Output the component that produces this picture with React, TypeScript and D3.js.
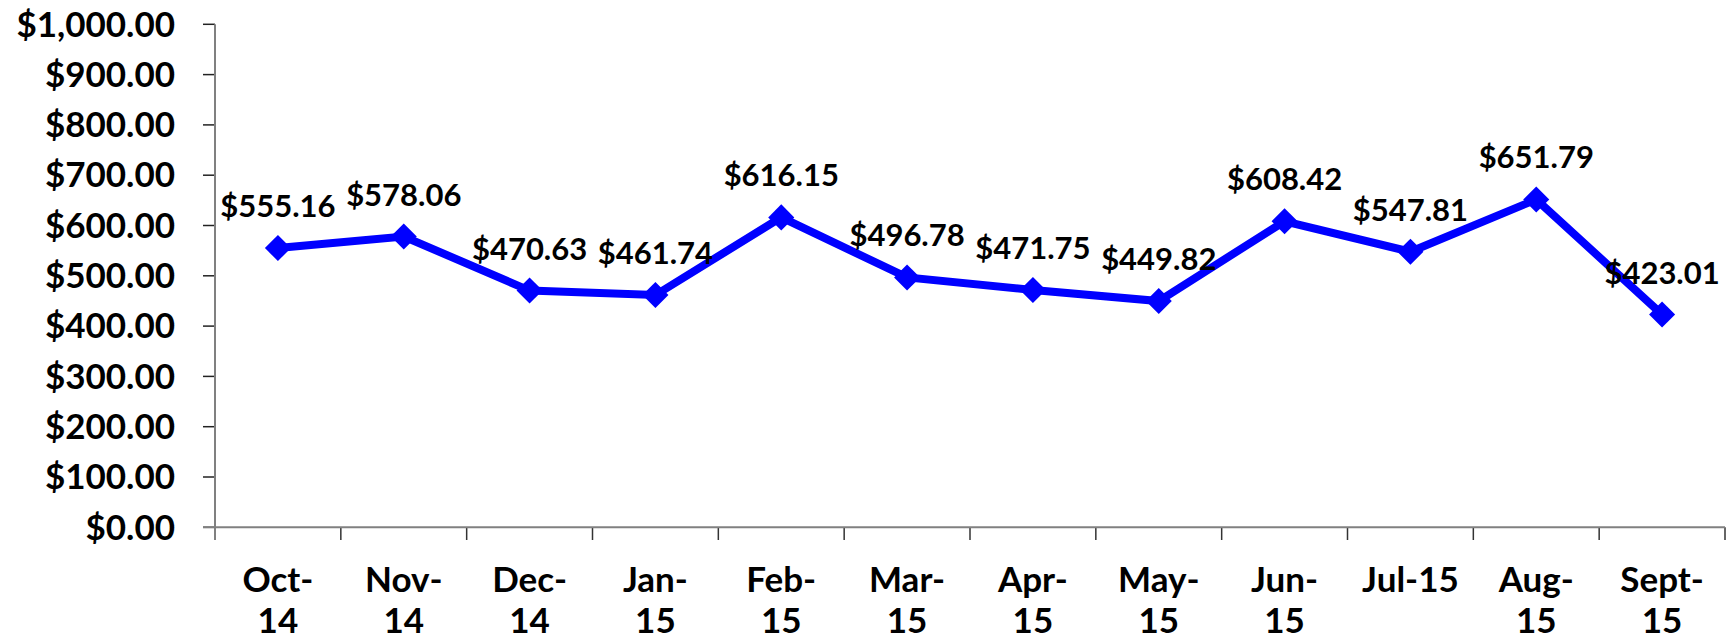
import React from "react";
import * as d3 from "d3";

const categories = ["Oct-14", "Nov-14", "Dec-14", "Jan-15", "Feb-15", "Mar-15", "Apr-15", "May-15", "Jun-15", "Jul-15", "Aug-15", "Sept-15"];
const tickLines = [["Oct-", "14"], ["Nov-", "14"], ["Dec-", "14"], ["Jan-", "15"], ["Feb-", "15"], ["Mar-", "15"], ["Apr-", "15"], ["May-", "15"], ["Jun-", "15"], ["Jul-15"], ["Aug-", "15"], ["Sept-", "15"]];
const values = [555.16, 578.06, 470.63, 461.74, 616.15, 496.78, 471.75, 449.82, 608.42, 547.81, 651.79, 423.01];
const yTicks = [0, 100, 200, 300, 400, 500, 600, 700, 800, 900, 1000];

const W = 1733;
const H = 638;
const left = 215;
const right = 1725;
const top = 24.3;
const bottom = 527.3;

export default function App() {
  const x = d3.scaleBand<string>().domain(categories).range([left, right]).padding(0);
  const y = d3.scaleLinear().domain([0, 1000]).range([bottom, top]);
  const cx = (c: string) => (x(c) as number) + x.bandwidth() / 2;
  const fmt = (v: number) => "$" + d3.format(",.2f")(v);
  const line = d3
    .line<number>()
    .x((_, i) => cx(categories[i]))
    .y((d) => y(d));
  const diamond = d3.symbol().type(d3.symbolSquare).size(340)();
  const font = "Lato, 'DejaVu Sans', sans-serif";
  const boundaries = d3.range(categories.length + 1).map((i) => left + i * x.step());

  return (
    <svg width={W} height={H} style={{ position: "absolute", left: 0, top: 0, background: "#fff" }}>
      {yTicks.map((t) => (
        <g key={t}>
          <line x1={203} x2={left} y1={y(t)} y2={y(t)} stroke="#222" strokeWidth={1.5} />
          <text x={175} y={y(t)} dy="0.35em" textAnchor="end" fontFamily={font} fontWeight="bold" fontSize={35} fill="#000">
            {fmt(t)}
          </text>
        </g>
      ))}
      {boundaries.map((b, i) => (
        <line key={i} x1={b} x2={b} y1={bottom} y2={540} stroke="#333" strokeWidth={1.5} />
      ))}
      <line x1={left} x2={left} y1={top} y2={540} stroke="#808080" strokeWidth={2} />
      <line x1={left - 12} x2={right} y1={bottom} y2={bottom} stroke="#808080" strokeWidth={2} />
      {categories.map((c, i) => (
        <text key={c} x={cx(c)} textAnchor="middle" fontFamily={font} fontWeight="bold" fontSize={35} fill="#000">
          {tickLines[i].map((ln, j) => (
            <tspan key={j} x={cx(c)} y={591.7 + j * 41}>
              {ln}
            </tspan>
          ))}
        </text>
      ))}
      <path d={line(values) || ""} fill="none" stroke="#0000FF" strokeWidth={8} strokeLinejoin="miter" />
      {values.map((v, i) => (
        <path key={i} d={diamond || ""} transform={`translate(${cx(categories[i])},${y(v)}) rotate(45)`} fill="#0000FF" />
      ))}
      {values.map((v, i) => (
        <text key={i} x={cx(categories[i])} y={y(v) - 31} textAnchor="middle" fontFamily={font} fontWeight="bold" fontSize={31} fill="#000">
          {fmt(v)}
        </text>
      ))}
    </svg>
  );
}
